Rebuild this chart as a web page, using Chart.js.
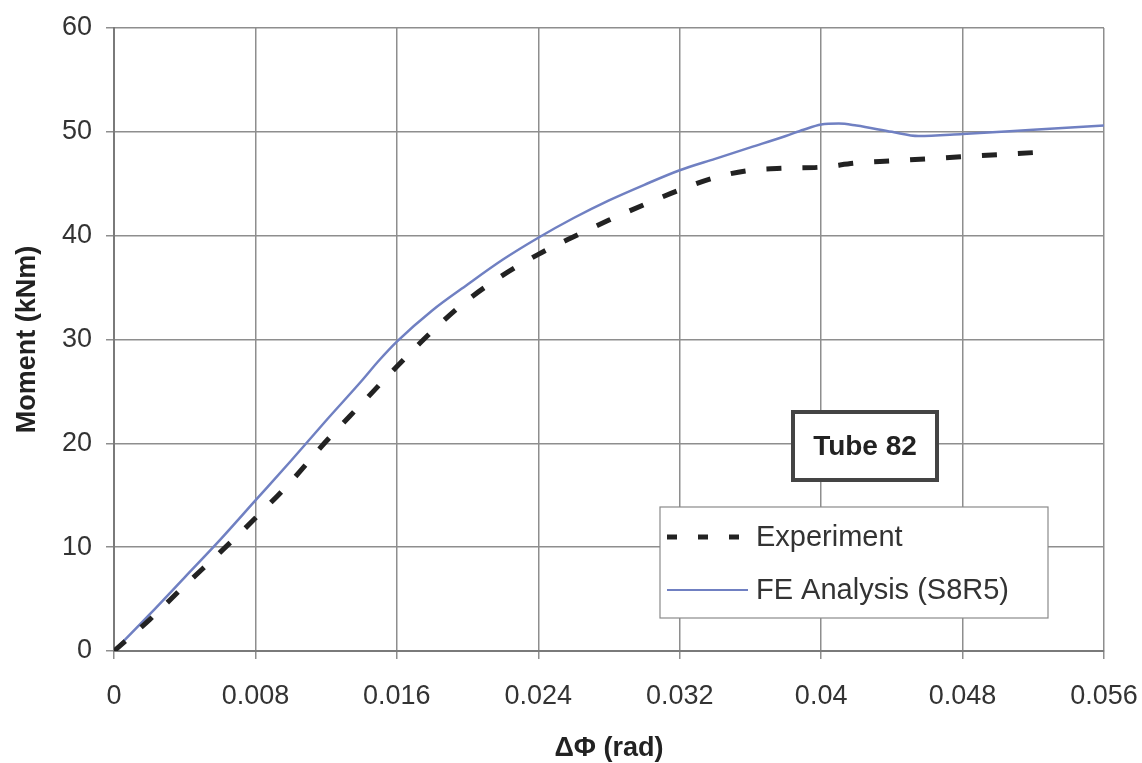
<!DOCTYPE html>
<html>
<head>
<meta charset="utf-8">
<script src="https://cdn.jsdelivr.net/npm/chart.js@4/dist/chart.umd.min.js"></script>
<style>
  html, body { margin: 0; padding: 0; background: #fff; }
  canvas { display: block; }
</style>
</head>
<body>
<canvas id="momentChart" width="1142" height="763"></canvas>
<script>
// rotation ΔΦ (rad) vs moment (kNm)
const expRotation = [0, 0.002, 0.004, 0.006, 0.008, 0.010, 0.012, 0.014, 0.016, 0.018, 0.020, 0.022, 0.024, 0.026,
  0.028, 0.030, 0.032, 0.034, 0.036, 0.038, 0.040, 0.042, 0.044, 0.046, 0.048, 0.050, 0.052];
const expMoment = [0, 3.0, 6.3, 9.5, 12.8, 16.3, 20.2, 23.8, 27.4, 30.8, 33.8, 36.2, 38.2, 39.9,
  41.5, 43.0, 44.4, 45.6, 46.3, 46.5, 46.6, 47.0, 47.2, 47.4, 47.6, 47.8, 48.0];

const feRotation = [0, 0.002, 0.004, 0.006, 0.008, 0.010, 0.012, 0.014, 0.015, 0.016, 0.018, 0.020, 0.022, 0.024,
  0.026, 0.028, 0.030, 0.032, 0.034, 0.036, 0.038, 0.039, 0.040, 0.041, 0.042, 0.044, 0.0455, 0.048, 0.052, 0.056];
const feMoment = [0, 3.5, 7.1, 10.7, 14.5, 18.3, 22.2, 26.0, 28.0, 29.8, 32.8, 35.3, 37.7, 39.8,
  41.7, 43.4, 44.9, 46.3, 47.4, 48.5, 49.6, 50.2, 50.7, 50.8, 50.6, 50.0, 49.6, 49.8, 50.2, 50.6];

const xTicks = [0, 0.008, 0.016, 0.024, 0.032, 0.04, 0.048, 0.056];
const xTickLabels = ["0", "0.008", "0.016", "0.024", "0.032", "0.04", "0.048", "0.056"];
const yTicks = [0, 10, 20, 30, 40, 50, 60];

const seriesNames = ["Experiment", "FE Analysis (S8R5)"];
const specimenLabel = "Tube 82";

const toPoints = (xs, ys) => xs.map((x, i) => ({ x: x, y: ys[i] }));

const FONT = "'Liberation Sans', Arial, sans-serif";
const GRID = "#8e8e8e";

// legend box and specimen tag drawn inside the plot
const annotations = {
  id: "annotations",
  afterDraw(chart) {
    const ctx = chart.ctx;
    ctx.save();

    // specimen tag
    const tx = 793, ty = 412, tw = 144, th = 68;
    ctx.fillStyle = "#fff";
    ctx.fillRect(tx, ty, tw, th);
    ctx.strokeStyle = "#444";
    ctx.lineWidth = 4;
    ctx.strokeRect(tx, ty, tw, th);
    ctx.fillStyle = "#222";
    ctx.font = "bold 28px " + FONT;
    ctx.textAlign = "center";
    ctx.textBaseline = "middle";
    ctx.fillText(specimenLabel, tx + tw / 2, ty + th / 2 + 1);

    // legend
    const lx = 660, ly = 507, lw = 388, lh = 111;
    ctx.fillStyle = "#fff";
    ctx.fillRect(lx, ly, lw, lh);
    ctx.strokeStyle = "#8a8a8a";
    ctx.lineWidth = 1.2;
    ctx.strokeRect(lx, ly, lw, lh);

    const rows = [537, 590];
    chart.data.datasets.forEach((ds, i) => {
      const y = rows[i];
      ctx.beginPath();
      ctx.strokeStyle = ds.borderColor;
      if (i === 0) {
        ctx.lineWidth = 5;
        ctx.setLineDash([10, 21]);
        ctx.moveTo(667, y);
        ctx.lineTo(742, y);
      } else {
        ctx.lineWidth = 2;
        ctx.setLineDash([]);
        ctx.moveTo(667, y);
        ctx.lineTo(748, y);
      }
      ctx.stroke();
      ctx.setLineDash([]);
      ctx.fillStyle = "#333";
      ctx.font = "29px " + FONT;
      ctx.textAlign = "left";
      ctx.textBaseline = "middle";
      ctx.fillText(ds.label, 756, y + 1);
    });
    ctx.restore();
  }
};

new Chart(document.getElementById("momentChart"), {
  type: "scatter",
  data: {
    datasets: [{
      label: seriesNames[0],
      data: toPoints(expRotation, expMoment),
      showLine: true,
      borderColor: "#222",
      borderWidth: 5,
      borderDash: [15, 21],
      borderCapStyle: "butt",
      pointRadius: 0,
      cubicInterpolationMode: "monotone"
    }, {
      label: seriesNames[1],
      data: toPoints(feRotation, feMoment),
      showLine: true,
      borderColor: "#7080c2",
      borderWidth: 2.5,
      pointRadius: 0,
      cubicInterpolationMode: "monotone"
    }]
  },
  options: {
    responsive: false,
    animation: false,
    layout: { padding: { top: 28, right: 38, left: 0, bottom: 0 } },
    plugins: { legend: { display: false }, tooltip: { enabled: false } },
    scales: {
      x: {
        type: "linear",
        min: 0,
        max: 0.056,
        afterBuildTicks: s => { s.ticks = xTicks.map(v => ({ value: v })); },
        afterFit: s => { s.height = 112; s.paddingLeft = 0; s.paddingRight = 0; },
        ticks: {
          color: "#333",
          font: { family: FONT, size: 27 },
          padding: 21,
          maxRotation: 0,
          callback: (v, i) => xTickLabels[i]
        },
        grid: { color: GRID, lineWidth: 1.5, tickLength: 8 },
        border: { color: "#7a7a7a", width: 2 },
        title: {
          display: true,
          text: "ΔΦ (rad)",
          color: "#222",
          font: { family: FONT, size: 27, weight: "bold", lineHeight: 1 },
          padding: { top: 0, bottom: 1 }
        }
      },
      y: {
        min: 0,
        max: 60,
        afterBuildTicks: s => { s.ticks = yTicks.map(v => ({ value: v })); },
        afterFit: s => { s.width = 114; s.paddingTop = 0; s.paddingBottom = 0; },
        ticks: {
          color: "#333",
          font: { family: FONT, size: 27 },
          padding: 14
        },
        grid: { color: GRID, lineWidth: 1.5, tickLength: 8 },
        border: { color: "#7a7a7a", width: 2 },
        title: {
          display: true,
          text: "Moment (kNm)",
          color: "#222",
          font: { family: FONT, size: 27, weight: "bold", lineHeight: 1 },
          padding: { top: 14, bottom: 0 }
        }
      }
    }
  },
  plugins: [annotations]
});
</script>
</body>
</html>
